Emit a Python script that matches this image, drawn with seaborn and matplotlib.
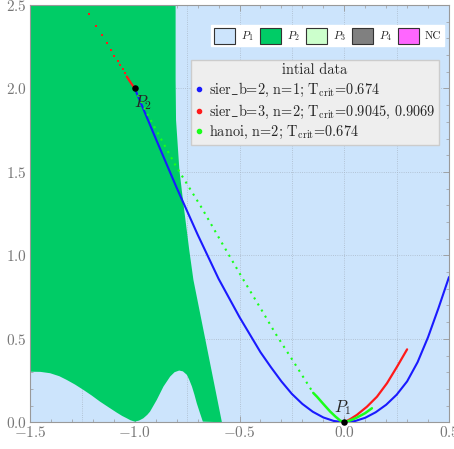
import numpy as np
import matplotlib
matplotlib.use("Agg")
import matplotlib.pyplot as plt
import seaborn as sns
from matplotlib.patches import Patch
from matplotlib.lines import Line2D
from matplotlib.ticker import MultipleLocator

# ==============================
# DATA
# ==============================

# right edge of the P2 region, x as a function of y
p2_edge_y = [0.0, 0.853, 1.033, 1.332, 1.512, 1.811, 2.051, 2.5]
p2_edge_x = [-0.584, -0.720, -0.740, -0.770, -0.787, -0.803, -0.805, -0.805]

# lower edge of the P2 region (P1 bump underneath)
bump_x = [-1.5, -1.45, -1.404, -1.36, -1.325, -1.285, -1.245, -1.205, -1.166,
          -1.125, -1.086, -1.06, -1.038, -1.02, -1.0, -0.98, -0.959, -0.94,
          -0.927, -0.895, -0.863, -0.831, -0.81, -0.788, -0.77, -0.751,
          -0.74, -0.727, -0.715, -0.704, -0.69, -0.675]
bump_y = [0.303, 0.302, 0.294, 0.276, 0.254, 0.226, 0.194, 0.16, 0.124,
          0.09, 0.058, 0.038, 0.024, 0.012, 0.004, 0.01, 0.024, 0.045,
          0.064, 0.134, 0.214, 0.274, 0.30, 0.31, 0.305, 0.284,
          0.255, 0.214, 0.165, 0.114, 0.06, 0.004]

# sier_b=2, n=1
sier2_x = [-1.0, -0.9, -0.8, -0.7, -0.6, -0.5, -0.4, -0.35, -0.3, -0.25,
           -0.2, -0.15, -0.1, -0.05, 0.0, 0.05, 0.1, 0.15, 0.2, 0.25, 0.3,
           0.35, 0.4, 0.45, 0.5]
sier2_y = [2.0, 1.70, 1.405, 1.125, 0.86, 0.63, 0.42, 0.33, 0.245, 0.17,
           0.11, 0.063, 0.029, 0.008, 0.0, 0.007, 0.027, 0.06, 0.105, 0.165,
           0.245, 0.36, 0.51, 0.685, 0.87]

# sier_b=3, n=2
sier3_dots_x = [-1.2195, -1.1847, -1.156, -1.134, -1.114, -1.097, -1.081,
                -1.069, -1.057, -1.048, -1.038]
sier3_dots_y = [2.446, 2.376, 2.32, 2.271, 2.231, 2.197, 2.167,
                2.139, 2.115, 2.091, 2.071]
sier3_top_x = [-1.038, -1.02, -1.0]
sier3_top_y = [2.071, 2.036, 2.0]
sier3_low_x = [0.0, 0.03, 0.06, 0.108, 0.156, 0.204, 0.252, 0.30]
sier3_low_y = [0.0, 0.02, 0.044, 0.093, 0.153, 0.234, 0.333, 0.437]

# hanoi, n=2
hanoi_sparse_x = [-1.0, -0.946, -0.804, -0.681, -0.583, -0.484, -0.39,
                  -0.329, -0.282, -0.242, -0.148]
hanoi_sparse_y = [2.0, 1.861, 1.536, 1.286, 1.072, 0.859, 0.663,
                  0.533, 0.441, 0.363, 0.176]
hanoi_dense_x = [-0.148, -0.13, -0.1, -0.067, -0.04, -0.019, 0.0, 0.03,
                 0.06, 0.1, 0.132]
hanoi_dense_y = [0.176, 0.153, 0.11, 0.064, 0.032, 0.01, 0.0, 0.012,
                 0.028, 0.055, 0.084]

# equilibrium points
pts_x = [-1.0, 0.0]
pts_y = [2.0, 0.0]
pts_lab = ["$P_2$", "$P_1$"]

region_labels = ["$P_1$", "$P_2$", "$P_3$", "$P_4$", "NC"]
region_colors = ["#cce4fc", "#00cc66", "#ccffcc", "#808080", "#ff66ff"]

curve_labels = [r"sier$\_$b=2, n=1; T$_{\rm crit}$=0.674",
                r"sier$\_$b=3, n=2; T$_{\rm crit}$=0.9045, 0.9069",
                r"hanoi, n=2; T$_{\rm crit}$=0.674"]
curve_colors = ["#1a1aff", "#ff1a1a", "#1aff1a"]

# ==============================
# STYLE
# ==============================

sns.set_style("ticks")
plt.rcParams["font.family"] = "serif"
plt.rcParams["font.serif"] = ["cmr10", "DejaVu Serif"]
plt.rcParams["mathtext.fontset"] = "cm"
plt.rcParams["axes.formatter.use_mathtext"] = True

fig = plt.figure(figsize=(4.54, 4.49), dpi=100)
ax = fig.add_axes([0.0661, 0.0595, 0.9229, 0.9294])
ax.set_facecolor(region_colors[0])

# P2 region polygon: left edge, right edge (top->bottom), bump (right->left)
poly_x = [-1.5] + p2_edge_x[::-1] + bump_x[::-1]
poly_y = [2.5] + p2_edge_y[::-1] + bump_y[::-1]
ax.fill(poly_x, poly_y, color=region_colors[1], lw=0, zorder=1)

# curves
sns.lineplot(x=sier2_x, y=sier2_y, sort=False, estimator=None,
             color=curve_colors[0], lw=1.5, ax=ax, zorder=3)
sns.lineplot(x=hanoi_sparse_x, y=hanoi_sparse_y, sort=False, estimator=None,
             color=curve_colors[2], lw=1.5, ls=(0, (1, 2.4)), ax=ax, zorder=4)
sns.lineplot(x=hanoi_dense_x, y=hanoi_dense_y, sort=False, estimator=None,
             color=curve_colors[2], lw=1.8, ax=ax, zorder=4)
sns.lineplot(x=sier3_low_x, y=sier3_low_y, sort=False, estimator=None,
             color=curve_colors[1], lw=1.6, ax=ax, zorder=3)
sns.lineplot(x=sier3_top_x, y=sier3_top_y, sort=False, estimator=None,
             color=curve_colors[1], lw=1.6, ax=ax, zorder=3)
sns.scatterplot(x=sier3_dots_x, y=sier3_dots_y, color=curve_colors[1],
                marker="s", s=3, linewidth=0, ax=ax, zorder=3)

# points
sns.scatterplot(x=pts_x, y=pts_y, color="black", s=22, linewidth=0,
                ax=ax, zorder=6, clip_on=False)
ax.text(pts_x[0] - 0.005, pts_y[0] - 0.11, pts_lab[0], fontsize=12,
        ha="left", va="baseline", zorder=7)
ax.text(pts_x[1] - 0.048, pts_y[1] + 0.062, pts_lab[1], fontsize=12,
        ha="left", va="baseline", zorder=7)

# axes
ax.set_xlim(-1.5, 0.5)
ax.set_ylim(0, 2.5)
ax.xaxis.set_major_locator(MultipleLocator(0.5))
ax.yaxis.set_major_locator(MultipleLocator(0.5))
ax.xaxis.set_minor_locator(MultipleLocator(0.1))
ax.yaxis.set_minor_locator(MultipleLocator(0.1))
ax.tick_params(which="both", direction="in", top=True, right=True,
               colors="#999999", labelcolor="#777777", labelsize=11, pad=2)
ax.tick_params(which="major", length=4, width=0.6)
ax.tick_params(which="minor", length=2, width=0.5)
for s in ax.spines.values():
    s.set_color("#999999")
    s.set_linewidth(0.8)

ax.set_axisbelow(True)
for gx in [-1.25, -1.0, -0.75, -0.5, -0.25, 0.0, 0.25]:
    ax.axvline(gx, color="#aab8c8", lw=0.6, ls=":", zorder=0.5)
for gy in [0.5, 1.0, 1.5, 2.0]:
    ax.axhline(gy, color="#aab8c8", lw=0.6, ls=":", zorder=0.5)
ax.set_xlabel("")
ax.set_ylabel("")

# legends
reg_handles = [Patch(facecolor=c, edgecolor="#333333", lw=0.8)
               for c in region_colors]
leg1 = ax.legend(reg_handles, region_labels, ncol=5, loc="upper right",
                 bbox_to_anchor=(0.988, 0.951), fontsize=8, frameon=True,
                 fancybox=False, framealpha=1, facecolor="white",
                 edgecolor="white", handlelength=1.9, handleheight=1.75,
                 handletextpad=0.5, columnspacing=0.6, borderpad=0.25,
                 borderaxespad=0)
ax.add_artist(leg1)

cur_handles = [Line2D([], [], ls="none", marker="o", ms=3, color=c)
               for c in curve_colors]
leg2 = ax.legend(cur_handles, curve_labels, loc="upper right",
                 bbox_to_anchor=(0.976, 0.868), fontsize=10.3, title="intial data",
                 title_fontsize=10.3, frameon=True, fancybox=False, framealpha=1,
                 facecolor="#eeeeee", edgecolor="#cccccc", handlelength=0.6,
                 handletextpad=0.4, labelspacing=0.25, borderpad=0.25,
                 borderaxespad=0)
leg2.set_zorder(10)

fig.savefig("out.png", dpi=100)
